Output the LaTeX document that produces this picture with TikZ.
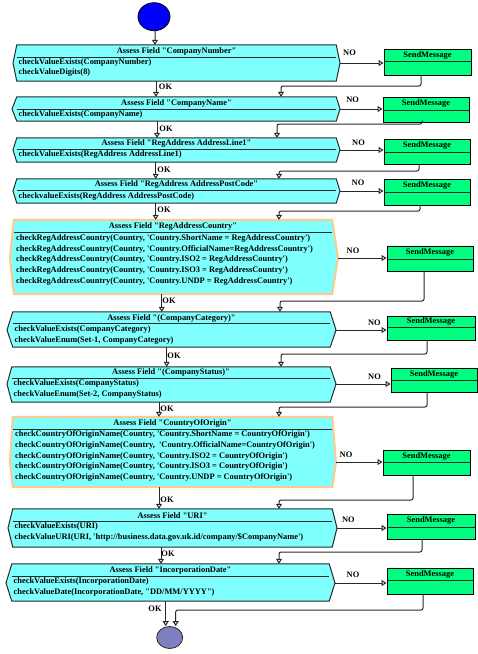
\documentclass[tikz,border=0pt]{standalone}
\usepackage{fontspec}
\newfontfamily\tnr{Liberation Serif}
\usetikzlibrary{arrows.meta,shapes.geometric,fit}
\definecolor{boxcyan}{RGB}{128,255,255}
\definecolor{smgreen}{RGB}{0,255,128}
\definecolor{edgeorange}{RGB}{255,200,140}
\definecolor{startblue}{RGB}{0,0,255}
\definecolor{endblue}{RGB}{128,128,192}
\definecolor{ink}{RGB}{40,40,40}
% #1 name #2 L #3 R #4 T #5 B #6 left point #7 right point #8 point y #9 style
\newcommand\assessbox[9]{%
  \coordinate (#1-nw) at (#2,#4);
  \coordinate (#1-se) at (#3,#5);
  \node[fit=(#1-nw)(#1-se), inner sep=0pt] (#1) {};
  \coordinate (#1-l) at ({#2-#6},#8);
  \coordinate (#1-r) at ({#3+#7},#8);
  \draw[#9] (#1.north west) -- (#1.north east) -- (#1-r) -- (#1.south east) -- (#1.south west) -- (#1-l) -- cycle;
}
% #1 name #2 title y #3 sep y #4 title
\newcommand\assesshead[4]{%
  \coordinate (#1-ty) at (0,#2);
  \coordinate (#1-sy) at (0,#3);
  \node[ttl] (#1-t) at (#1.north |- #1-ty) {#4};
  \draw[sep] (#1.west |- #1-sy) -- (#1.east |- #1-sy);
}
% #1 name #2 L #3 R #4 T #5 B #6 sep y
\newcommand\sendbox[6]{%
  \coordinate (#1-nw) at (#2,#4);
  \coordinate (#1-se) at (#3,#5);
  \node[smbox, fit=(#1-nw)(#1-se)] (#1) {};
  \coordinate (#1-sl) at (#2,#6);
  \coordinate (#1-sr) at (#3,#6);
  \draw[sep] (#1-sl) -- (#1-sr);
  \node[ttl] (#1-t) at ({(#2+#3)/2},{(#4+#6)/2}) {SendMessage};
}
\begin{document}
\begin{tikzpicture}[x=1pt,y=-1pt,
  txt/.style={font=\tnr\bfseries\fontsize{8.4}{10}\selectfont, inner sep=0pt, text=black},
  ttl/.style={txt},
  body/.style={txt, anchor=west},
  lbl/.style={txt},
  plainbox/.style={draw=ink, line width=1pt, fill=boxcyan},
  orangebox/.style={draw=edgeorange, line width=2pt, fill=boxcyan},
  sep/.style={draw=ink, line width=1pt},
  smbox/.style={draw=black, line width=1pt, fill=smgreen, inner sep=0pt},
  conn/.style={draw=ink, line width=1pt, -{Triangle[open,length=5pt,width=6pt]}},
  ret/.style={conn, rounded corners=2pt},
]
\useasboundingbox (0,0) rectangle (478,654);

% start / end
\node[ellipse, draw=black, line width=0.8pt, fill=startblue, minimum width=32pt, minimum height=28pt, inner sep=0pt] (start) at (154,16.7) {};
\node[ellipse, draw=ink, line width=0.8pt, fill=endblue, minimum width=26pt, minimum height=22pt, inner sep=0pt] (endc) at (169.7,637.5) {};

% assess boxes
\assessbox{b1}{17}{336}{45}{81}{4}{4}{63}{plainbox}
\assesshead{b1}{51.5}{57}{Assess Field "CompanyNumber"}
\node[body] (b1-1) at (18.5,62.3) {checkValueExists(CompanyNumber)};
\node[body] (b1-2) at (18.5,73) {checkValueDigits(8)};

\assessbox{b2}{17}{336}{97}{121}{5}{4}{109}{plainbox}
\assesshead{b2}{103.5}{109.5}{Assess Field "CompanyName"}
\node[body] (b2-1) at (18.5,114.5) {checkValueExists(CompanyName)};

\assessbox{b3}{17}{336}{138}{162}{4}{4}{150}{plainbox}
\assesshead{b3}{144}{149.5}{Assess Field "RegAddress AddressLine1"}
\node[body] (b3-1) at (18.5,154.5) {checkValueExists(RegAddress AddressLine1)};

\assessbox{b4}{17}{336}{179}{203}{4}{4}{191}{plainbox}
\assesshead{b4}{185}{190.7}{Assess Field "RegAddress AddressPostCode"}
\node[body] (b4-1) at (18.5,196.7) {checkvalueExists(RegAddress AddressPostCode)};

\assessbox{b5}{14}{332}{220}{294}{4}{6}{258}{orangebox}
\assesshead{b5}{227}{232.7}{Assess Field "RegAddressCountry"}
\node[body] (b5-1) at (16,238.3) {checkRegAddressCountry(Country, 'Country.ShortName = RegAddressCountry')};
\node[body] (b5-2) at (16,249) {checkRegAddressCountry(Country, 'Country.OfficialName=RegAddressCountry')};
\node[body] (b5-3) at (16,259.7) {checkRegAddressCountry(Country, 'Country.ISO2 = RegAddressCountry')};
\node[body] (b5-4) at (16,270.4) {checkRegAddressCountry(Country, 'Country.ISO3 = RegAddressCountry')};
\node[body] (b5-5) at (16,281.1) {checkRegAddressCountry(Country, 'Country.UNDP = RegAddressCountry')};

\assessbox{b6}{13}{330}{312}{347}{6}{6}{330}{plainbox}
\assesshead{b6}{318.3}{323.7}{Assess Field "(CompanyCategory)"}
\node[body] (b6-1) at (14.5,329.3) {checkValueExists(CompanyCategory)};
\node[body] (b6-2) at (14.5,340.7) {checkValueEnum(Set-1, CompanyCategory)};

\assessbox{b7}{12}{330}{367}{402}{5}{6}{384}{plainbox}
\assesshead{b7}{372.7}{378}{Assess Field "(CompanyStatus)"}
\node[body] (b7-1) at (13.5,383) {checkValueExists(CompanyStatus)};
\node[body] (b7-2) at (13.5,394) {checkValueEnum(Set-2, CompanyStatus)};

\assessbox{b8}{13}{332}{417}{487}{3}{4}{462}{orangebox}
\assesshead{b8}{423.5}{429}{Assess Field "CountryOfOrigin"}
\node[body] (b8-1) at (15,434.7) {checkCountryOfOriginName(Country, 'Country.ShortName = CountryOfOrigin')};
\node[body] (b8-2) at (15,445.4) {checkCountryOfOriginName(Country, \ 'Country.OfficialName=CountryOfOrigin')};
\node[body] (b8-3) at (15,456.1) {checkCountryOfOriginName(Country, 'Country.ISO2 = CountryOfOrigin')};
\node[body] (b8-4) at (15,466.8) {checkCountryOfOriginName(Country, 'Country.ISO3 = CountryOfOrigin')};
\node[body] (b8-5) at (15,477.5) {checkCountryOfOriginName(Country, 'Country.UNDP = CountryOfOrigin')};

\assessbox{b9}{13}{332}{509}{547}{5}{5}{528}{plainbox}
\assesshead{b9}{515.5}{521}{Assess Field "URI"}
\node[body] (b9-1) at (14.5,526.7) {checkValueExists(URI)};
\node[body] (b9-2) at (14.5,537.3) {checkValueURI(URI, 'http://business.data.gov.uk.id/company/\$CompanyName')};

\assessbox{b10}{12}{329}{564}{601}{6}{6}{583}{plainbox}
\assesshead{b10}{570.5}{576.5}{Assess Field "IncorporationDate"}
\node[body] (b10-1) at (13.5,581.7) {checkValueExists(IncorporationDate)};
\node[body] (b10-2) at (13.5,592.3) {checkValueDate(IncorporationDate, "DD/MM/YYYY")};

% send message boxes
\sendbox{s1}{384}{471}{49}{75}{61.7}
\sendbox{s2}{383}{469}{97}{122}{110}
\sendbox{s3}{384}{470}{139}{164}{152}
\sendbox{s4}{384}{470}{179}{205}{192.7}
\sendbox{s5}{387}{473}{246}{271}{259}
\sendbox{s6}{387}{475}{316}{340}{327.3}
\sendbox{s7}{391}{477}{368}{392}{380.7}
\sendbox{s8}{383}{470}{450}{475}{462.7}
\sendbox{s9}{387}{475}{514}{539}{527.7}
\sendbox{s10}{387}{473}{568}{594}{580.7}

% NO connectors
\foreach \i in {1,...,10} {
  \draw[conn] (b\i-r) -- (b\i-r -| s\i.west);
}
\node[lbl] (no1) at (349.5,53) {NO};
\node[lbl] (no2) at (352.7,100) {NO};
\node[lbl] (no3) at (358.5,143) {NO};
\node[lbl] (no4) at (358,183) {NO};
\node[lbl] (no5) at (353,251) {NO};
\node[lbl] (no6) at (374.3,323) {NO};
\node[lbl] (no7) at (374.5,377) {NO};
\node[lbl] (no8) at (346,455) {NO};
\node[lbl] (no9) at (348.3,520) {NO};
\node[lbl] (no10) at (353,575) {NO};

% OK connectors
\coordinate (k0) at (155,0);
\draw[conn] (start) -- (start.south -| k0) -- (b1.north -| k0);
\foreach \i/\j/\x in {1/2/156, 2/3/157, 3/4/155.7, 4/5/155.7, 5/6/161.7, 6/7/166.7, 7/8/159, 8/9/159, 9/10/161} {
  \coordinate (k\i) at (\x,0);
  \draw[conn] (b\i.south -| k\i) -- (b\j.north -| k\i);
}
\coordinate (k10) at (165.7,0);
\draw[conn] (b10.south -| k10) -- (endc.north -| k10);

\node[lbl] (ok1) at (165.5,87) {OK};
\node[lbl] (ok2) at (166,128.3) {OK};
\node[lbl] (ok3) at (164,169.3) {OK};
\node[lbl] (ok4) at (164,210) {OK};
\node[lbl] (ok5) at (169,300.7) {OK};
\node[lbl] (ok6) at (174,356) {OK};
\node[lbl] (ok7) at (167,408.3) {OK};
\node[lbl] (ok8) at (167,499.3) {OK};
\node[lbl] (ok9) at (168,554) {OK};
\node[lbl] (ok10) at (155,608.3) {OK};

% return connectors
\foreach \i/\j/\xr/\yr/\xt in {1/2/421/86/281, 2/3/422/124/277, 3/4/419/171/279, 4/5/420/211/279, 5/6/424/301/280, 6/7/427/354/281, 7/8/427/407/279, 8/9/413/500/279, 9/10/422/552/279} {
  \coordinate (ra\i) at (\xr,0);
  \coordinate (rb\i) at (\xt,\yr);
  \draw[ret] (s\i.south -| ra\i) |- (rb\i) -- (rb\i |- b\j.north);
}
\coordinate (ra10) at (423,0);
\coordinate (rb10) at (175.7,610);
\draw[ret] (s10.south -| ra10) |- (rb10) -- (rb10 |- endc.north);
\end{tikzpicture}
\end{document}
